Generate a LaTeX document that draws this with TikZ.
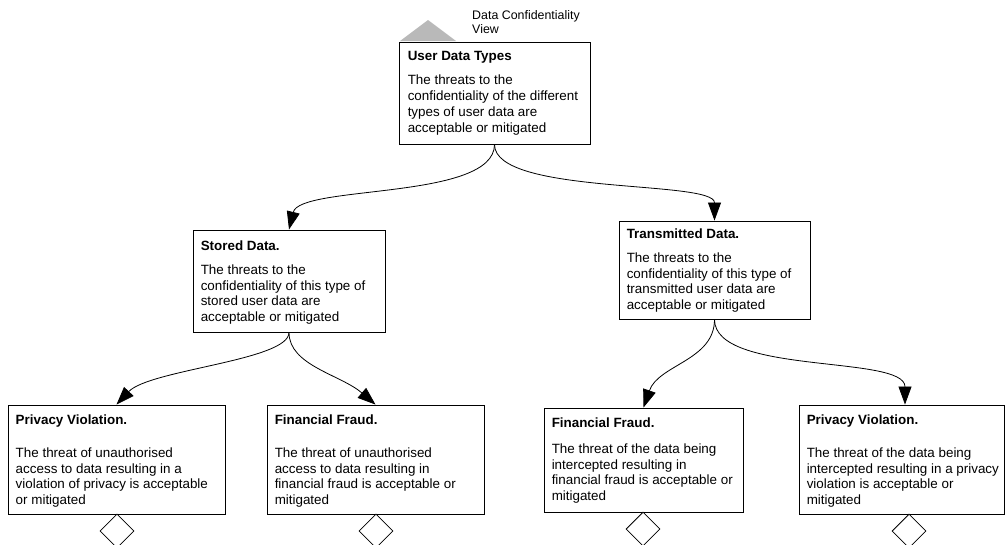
\documentclass[tikz,border=0pt]{standalone}
\usepackage{fontspec}
\setmainfont{Liberation Sans}
\usetikzlibrary{arrows.meta,shapes.geometric}
\begin{document}
\begin{tikzpicture}[x=1pt,y=-1pt,
  goalbox/.style={draw,line width=0.9pt,fill=white,inner sep=0pt},
  goaltext/.style={anchor=north west,inner sep=0pt,align=left,
    font=\fontsize{13.4}{15.7}\selectfont},
  link/.style={line width=0.8pt,-{Triangle[length=18pt,width=13pt]}},
  leaf/.style={diamond,draw,line width=0.8pt,fill=white,inner sep=0pt,
    minimum width=34pt,minimum height=34pt}]
\useasboundingbox (0,0) rectangle (1006,544);

% view marker and caption
\fill[gray!55] (400,41) -- (428,20) -- (456,41) -- cycle;
\node[anchor=north west,inner sep=0pt,align=left,
  font=\fontsize{12.4}{14.4}\selectfont] (cap) at (472,10) {Data Confidentiality\\View};

% goal boxes
\node[goalbox,minimum width=191pt,minimum height=102pt] (top) at (494.5,93) {};
\node[goalbox,minimum width=192pt,minimum height=102pt] (st) at (289,281) {};
\node[goalbox,minimum width=191pt,minimum height=98pt] (tr) at (714.5,270) {};
\node[goalbox,minimum width=217pt,minimum height=109pt] (pv1) at (116.5,459.5) {};
\node[goalbox,minimum width=217pt,minimum height=109pt] (ff1) at (375.5,459.5) {};
\node[goalbox,minimum width=199pt,minimum height=104pt] (ff2) at (643.5,460) {};
\node[goalbox,minimum width=205pt,minimum height=109pt] (pv2) at (901.5,459.5) {};

% box texts
\node[goaltext] (ttop) at ([shift={(9,10)}]top.north west)
  {\textbf{User Data Types}\\[8.3pt]The threats to the\\confidentiality of the different\\types of user data are\\acceptable or mitigated};
\node[goaltext] (tst) at ([shift={(8,11)}]st.north west)
  {\textbf{Stored Data.}\\[8.3pt]The threats to the\\confidentiality of this type of\\stored user data are\\acceptable or mitigated};
\node[goaltext] (ttr) at ([shift={(8,8)}]tr.north west)
  {\textbf{Transmitted Data.}\\[8.3pt]The threats to the\\confidentiality of this type of\\transmitted user data are\\acceptable or mitigated};
\node[goaltext] (tpv1) at ([shift={(8,10)}]pv1.north west)
  {\textbf{Privacy Violation.}\\[17.3pt]The threat of unauthorised\\access to data resulting in a\\violation of privacy is acceptable\\or mitigated};
\node[goaltext] (tff1) at ([shift={(8,10)}]ff1.north west)
  {\textbf{Financial Fraud.}\\[17.3pt]The threat of unauthorised\\access to data resulting in\\financial fraud is acceptable or\\mitigated};
\node[goaltext] (tff2) at ([shift={(8,10)}]ff2.north west)
  {\textbf{Financial Fraud.}\\[10.3pt]The threat of the data being\\intercepted resulting in\\financial fraud is acceptable or\\mitigated};
\node[goaltext] (tpv2) at ([shift={(8,10)}]pv2.north west)
  {\textbf{Privacy Violation.}\\[17.3pt]The threat of the data being\\intercepted resulting in a privacy\\violation is acceptable or\\mitigated};

% undeveloped-goal diamonds
\node[leaf] (d1) at (117,531) {};
\node[leaf] (d2) at (376,531) {};
\node[leaf] (d3) at (643,529) {};
\node[leaf] (d4) at (909,531) {};

% decomposition links
\draw[link] (top.south) .. controls +(0,56) and +(11,-45) .. (st.north);
\draw[link] (top.south) .. controls +(0,51) and +(0,-41) .. (tr.north);
\draw[link] (st.south) .. controls +(0,28) and +(33,-35) .. (pv1.north);
\draw[link] (st.south) .. controls +(0,33) and +(-35,-30) .. (ff1.north);
\draw[link] (tr.south) .. controls +(0,41) and +(15,-43) .. (ff2.north);
\draw[link] (tr.south) .. controls +(0,56) and +(0,-50) .. ([xshift=3.5pt]pv2.north);
\end{tikzpicture}
\end{document}
